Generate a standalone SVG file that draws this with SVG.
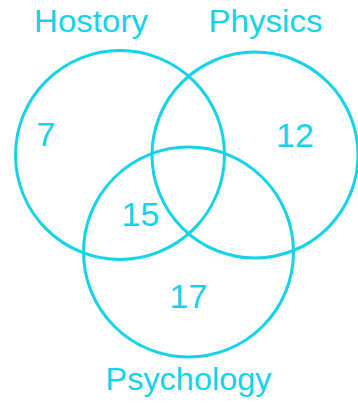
<svg xmlns="http://www.w3.org/2000/svg" width="358" height="403" viewBox="0 0 358 403">
<style>
.set{fill:none;stroke:#14d3e8;stroke-width:3}
.lbl{font-family:"Liberation Sans",Arial,sans-serif;font-size:31px;fill:#14d3e8;text-anchor:middle}
.num{font-family:"Liberation Sans",Arial,sans-serif;font-size:34px;fill:#14d3e8;text-anchor:middle}
</style>
<rect width="358" height="403" fill="#ffffff"/>
<g id="history">
<circle class="set" cx="120" cy="155" r="104.5"/>
<text class="lbl" x="91" y="32" textLength="114" lengthAdjust="spacingAndGlyphs">Hostory</text>
<text class="num" x="46" y="146">7</text>
</g>
<g id="physics">
<circle class="set" cx="255" cy="155" r="103"/>
<text class="lbl" x="265.5" y="32" textLength="114" lengthAdjust="spacingAndGlyphs">Physics</text>
<text class="num" x="295" y="147">12</text>
</g>
<g id="psychology">
<circle class="set" cx="188.5" cy="252" r="105"/>
<text class="lbl" x="188.5" y="390" textLength="166" lengthAdjust="spacingAndGlyphs">Psychology</text>
<text class="num" x="188.5" y="308">17</text>
</g>
<g id="intersection">
<text class="num" x="140.5" y="226">15</text>
</g>
</svg>
